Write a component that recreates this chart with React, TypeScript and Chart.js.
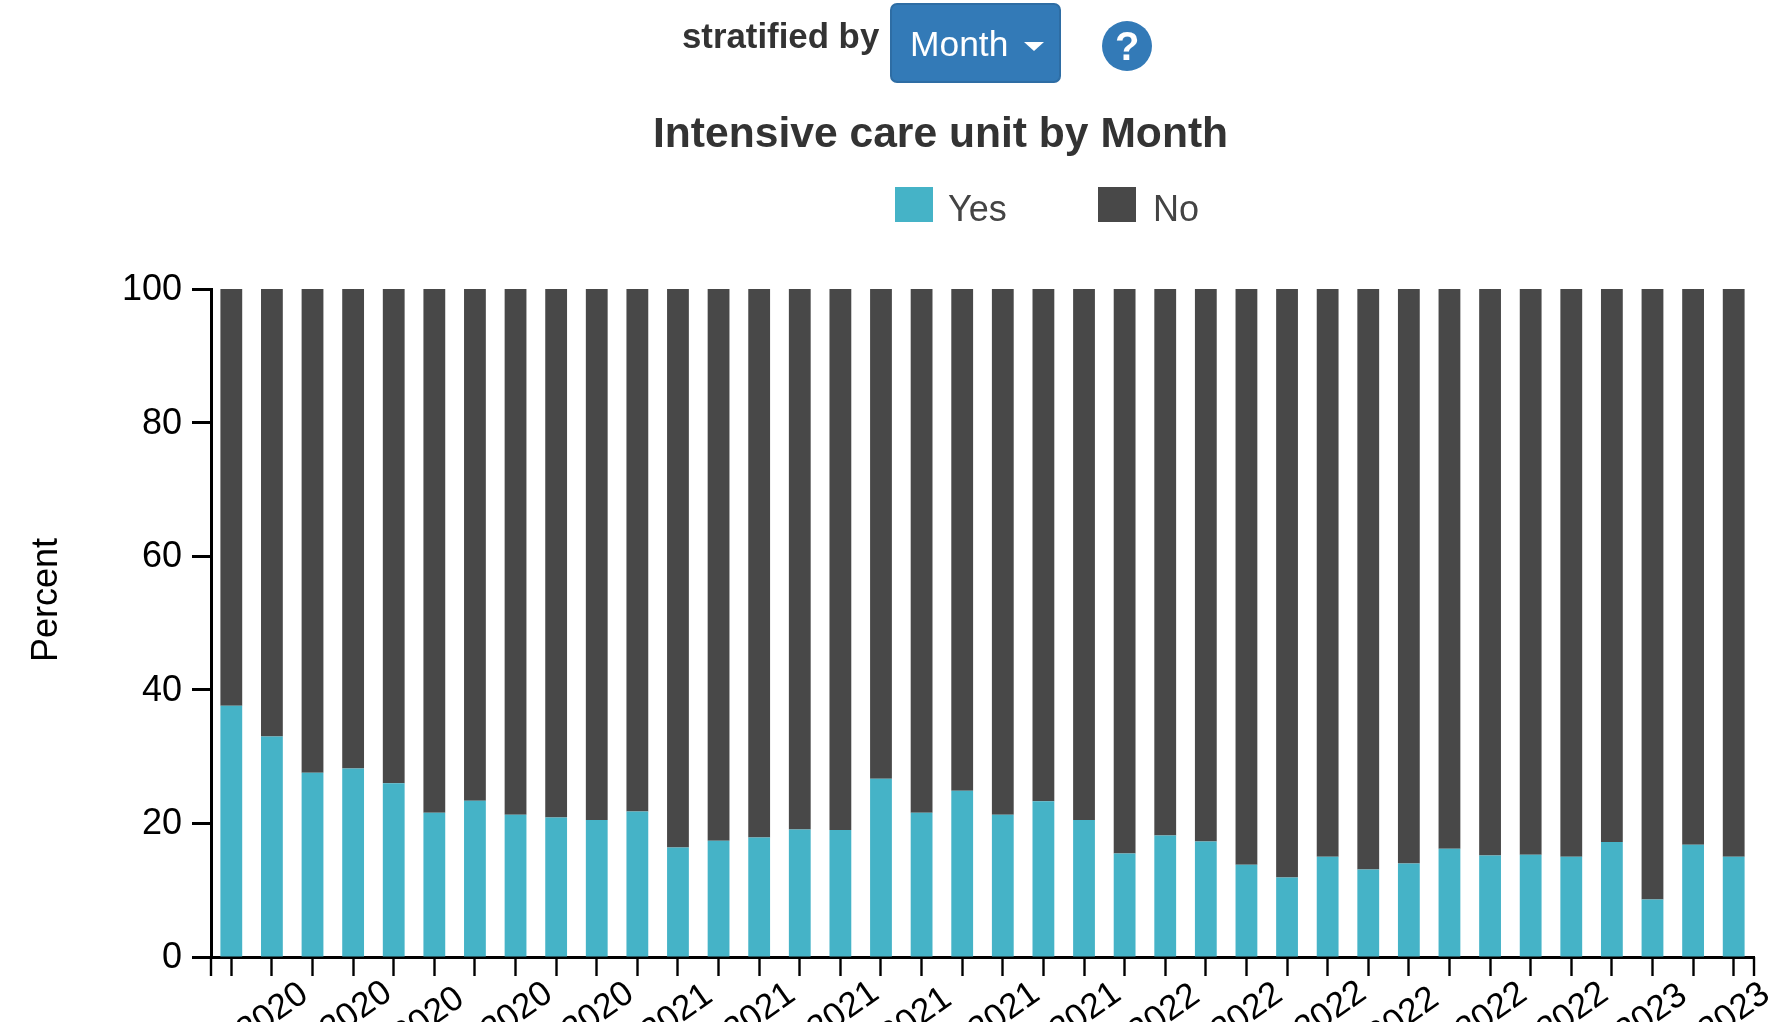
import React, { useEffect, useRef } from "react";
import { Chart, registerables } from "chart.js";

Chart.register(...registerables);

const months = [
  "Feb 2020", "Mar 2020", "Apr 2020", "May 2020", "Jun 2020", "Jul 2020", "Aug 2020", "Sep 2020", "Oct 2020", "Nov 2020", "Dec 2020",
  "Jan 2021", "Feb 2021", "Mar 2021", "Apr 2021", "May 2021", "Jun 2021", "Jul 2021", "Aug 2021", "Sep 2021", "Oct 2021", "Nov 2021", "Dec 2021",
  "Jan 2022", "Feb 2022", "Mar 2022", "Apr 2022", "May 2022", "Jun 2022", "Jul 2022", "Aug 2022", "Sep 2022", "Oct 2022", "Nov 2022", "Dec 2022",
  "Jan 2023", "Feb 2023", "Mar 2023",
];
const yesValues = [
  37.6, 33, 27.6, 28.2, 26, 21.6, 23.4, 21.3, 20.9, 20.5, 21.8,
  16.4, 17.4, 17.9, 19.1, 19, 26.7, 21.6, 24.9, 21.3, 23.3, 20.5,
  15.5, 18.2, 17.3, 13.8, 11.9, 15, 13.1, 14, 16.2, 15.2, 15.3, 15, 17.2,
  8.6, 16.8, 15,
];
const noValues = [
  62.4, 67, 72.4, 71.8, 74, 78.4, 76.6, 78.7, 79.1, 79.5, 78.2,
  83.6, 82.6, 82.1, 80.9, 81, 73.3, 78.4, 75.1, 78.7, 76.7, 79.5,
  84.5, 81.8, 82.7, 86.2, 88.1, 85, 86.9, 86, 83.8, 84.8, 84.7, 85, 82.8,
  91.4, 83.2, 85,
];

const YES_COLOR = "#45b3c7";
const NO_COLOR = "#484848";
const FONT = '"Liberation Sans", Arial, sans-serif';

function Txt(props: { x: number; base: number; size: number; bold?: boolean; color: string; children: React.ReactNode }) {
  const { x, base, size, bold, color, children } = props;
  return (
    <div
      style={{
        position: "absolute",
        left: x,
        top: base - 0.8465 * size,
        fontFamily: FONT,
        fontSize: size,
        lineHeight: `${size}px`,
        fontWeight: bold ? 700 : 400,
        color,
        whiteSpace: "nowrap",
      }}
    >
      {children}
    </div>
  );
}

const axisExtras = {
  id: "axisExtras",
  beforeDraw(chart: any) {
    chart.scales.x.getLabelItems().forEach((item: any) => {
      item.options.textAlign = "center";
    });
  },
  afterDraw(chart: any) {
    const { ctx, chartArea } = chart;
    ctx.save();
    ctx.strokeStyle = "#000";
    ctx.lineWidth = 2.4;
    [chartArea.left, chartArea.right].forEach((x: number) => {
      ctx.beginPath();
      ctx.moveTo(x, chartArea.bottom);
      ctx.lineTo(x, chartArea.bottom + 19);
      ctx.stroke();
    });
    ctx.translate(47, 600);
    ctx.rotate(-Math.PI / 2);
    ctx.fillStyle = "#000";
    ctx.font = `36px ${FONT}`;
    ctx.textAlign = "center";
    ctx.textBaseline = "middle";
    ctx.fillText("Percent", 0, 0);
    ctx.restore();
  },
};

export default function App() {
  const ref = useRef<HTMLCanvasElement>(null);
  useEffect(() => {
    const chart = new Chart(ref.current!, {
      type: "bar",
      data: {
        labels: months,
        datasets: [
          { label: "Yes", data: yesValues, backgroundColor: YES_COLOR, stack: "a" },
          { label: "No", data: noValues, backgroundColor: NO_COLOR, stack: "a" },
        ],
      },
      plugins: [axisExtras],
      options: {
        responsive: false,
        animation: false,
        maintainAspectRatio: false,
        layout: { padding: { top: 289, right: 18, left: 0, bottom: 0 } },
        datasets: { bar: { barPercentage: 0.537, categoryPercentage: 1 } },
        plugins: { legend: { display: false }, title: { display: false }, tooltip: { enabled: false } },
        scales: {
          x: {
            stacked: true,
            offset: true,
            afterFit(s: any) {
              s.height = 65;
              s.paddingLeft = 0;
              s.paddingRight = 0;
            },
            grid: { offset: false, drawOnChartArea: false, tickLength: 19, tickWidth: 2.4, tickColor: "#000" },
            border: { display: true, color: "#000", width: 3 },
            ticks: {
              autoSkip: false,
              minRotation: 35,
              maxRotation: 35,
              labelOffset: -28,
              padding: 40,
              color: "#000",
              font: { family: FONT, size: 35 },
              callback(_v: any, i: number) {
                return i % 2 === 1 ? months[i] : "";
              },
            },
          },
          y: {
            stacked: true,
            min: 0,
            max: 100,
            afterFit(s: any) {
              s.width = 211;
              s.paddingTop = 0;
              s.paddingBottom = 0;
            },
            grid: { drawOnChartArea: false, tickLength: 19, tickWidth: 3, tickColor: "#000" },
            border: { display: true, color: "#000", width: 3 },
            ticks: { stepSize: 20, padding: 10, labelOffset: 1, color: "#000", font: { family: FONT, size: 36 } },
          },
        },
      },
    } as any);
    return () => chart.destroy();
  }, []);

  return (
    <div style={{ position: "fixed", left: 0, top: 0, width: 1772, height: 1022, overflow: "hidden", background: "#fff" }}>
      <canvas ref={ref} width={1772} height={1022} style={{ position: "absolute", left: 0, top: 0, display: "block" }} />
      <Txt x={682} base={48} size={34.8} bold color="#333">stratified by</Txt>
      <div
        style={{
          position: "absolute", left: 890, top: 3, width: 171, height: 80, boxSizing: "border-box",
          background: "#337ab7", border: "2px solid #2e6da4", borderRadius: 7,
        }}
      />
      <Txt x={910} base={57} size={35.4} color="#fff">Month</Txt>
      <div
        style={{
          position: "absolute", left: 1024, top: 42, width: 0, height: 0,
          borderLeft: "10.5px solid transparent", borderRight: "10.5px solid transparent", borderTop: "9px solid #fff",
        }}
      />
      <div style={{ position: "absolute", left: 1102, top: 21, width: 50, height: 50, borderRadius: "50%", background: "#337ab7" }} />
      <Txt x={1115} base={60} size={40} bold color="#fff">?</Txt>
      <Txt x={653} base={147} size={42.6} bold color="#333">Intensive care unit by Month</Txt>
      <div style={{ position: "absolute", left: 895, top: 187, width: 38, height: 35, background: YES_COLOR }} />
      <Txt x={948} base={221} size={36} color="#444">Yes</Txt>
      <div style={{ position: "absolute", left: 1098, top: 187, width: 38, height: 35, background: NO_COLOR }} />
      <Txt x={1153} base={221} size={36} color="#444">No</Txt>
    </div>
  );
}
